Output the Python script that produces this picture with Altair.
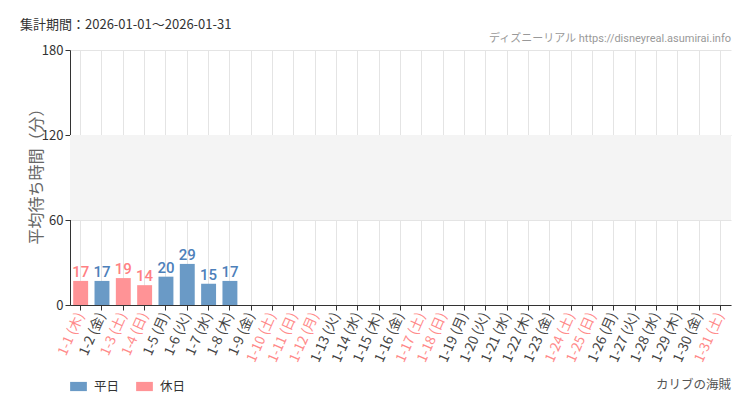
import altair as alt
import pandas as pd

days = [f"1-{d}" for d in range(1, 32)]
weekdays = ["木", "金", "土", "日", "月", "火", "水"] * 5
weekdays = weekdays[:31]
holiday_days = ["1-1", "1-3", "1-4", "1-10", "1-11", "1-12", "1-17", "1-18", "1-24", "1-25", "1-31"]
values = [17, 17, 19, 14, 20, 29, 15, 17] + [None] * 23

labels = [f"{d} ({w})" for d, w in zip(days, weekdays)]
kinds = ["休日" if d in holiday_days else "平日" for d in days]
holiday_labels = [l for l, k in zip(labels, kinds) if k == "休日"]

df = pd.DataFrame({"label": labels, "value": values, "kind": kinds})
bars_df = df.dropna()

W, H = 661, 255
FONT = "Noto Sans CJK JP"
NARROW = "Roboto, Noto Sans CJK JP"

xscale = alt.Scale(domain=labels, paddingInner=0.3, paddingOuter=0.15)
yscale = alt.Scale(domain=[0, 180])
color_scale = alt.Scale(domain=["平日", "休日"], range=["#6a9ac6", "#ff9396"])

hol_test = "indexof(" + str(holiday_labels) + ", datum.value) >= 0"

band = alt.Chart(pd.DataFrame({"y": [60], "y2": [120]})).mark_rect(color="#f4f4f4").encode(
    x=alt.value(0), x2=alt.value(W), y=alt.Y("y:Q", scale=yscale), y2="y2:Q"
)

base_axis = alt.Chart(df).mark_bar(opacity=0).encode(
    x=alt.X("label:N", scale=xscale, sort=labels, title=None,
            axis=alt.Axis(labelAngle=-66, bandPosition=0.5, grid=True, gridColor="#e4e4e4",
                          domainColor="#333", tickColor="#333", tickSize=5,
                          labelFont=FONT, labelFontSize=13.5, labelPadding=3,
                          labelColor={"condition": {"test": hol_test, "value": "#ff8a8a"}, "value": "#444"})),
    y=alt.Y("value:Q", scale=yscale, title="平均待ち時間（分）",
            axis=alt.Axis(values=[0, 60, 120, 180], grid=True, gridColor="#e4e4e4",
                          domainColor="#333", tickColor="#333", tickSize=5,
                          labelFont=FONT, labelFontSize=13, labelColor="#333",
                          titleFont=FONT, titleFontSize=16, titleColor="#666",
                          titleFontWeight="normal", titlePadding=-3, titleY=122)),
)

bars = alt.Chart(bars_df).mark_bar().encode(
    x=alt.X("label:N", scale=xscale, sort=labels),
    y=alt.Y("value:Q", scale=yscale),
    color=alt.Color("kind:N", scale=color_scale, title=None,
                    legend=alt.Legend(orient="none", legendX=0, legendY=328, direction="horizontal",
                                      symbolType="M-1,-0.55H1V0.55H-1Z", symbolSize=280,
                                      symbolStrokeWidth=0, labelFont=FONT, labelFontSize=12.5,
                                      labelColor="#333", columnPadding=16, labelOffset=7,
                                      symbolOpacity=1)),
)

texts = alt.Chart(bars_df).mark_text(dy=-9, font=NARROW, fontSize=15, fontWeight=500).encode(
    x=alt.X("label:N", scale=xscale, sort=labels),
    y=alt.Y("value:Q", scale=yscale),
    text="value:Q",
    color=alt.Color("kind:N", scale=alt.Scale(domain=["平日", "休日"], range=["#4d80ba", "#ff8083"]), legend=None),
)

one = pd.DataFrame({"a": [1]})
t1 = alt.Chart(one).mark_text(text="集計期間：2026-01-01～2026-01-31", align="left", baseline="middle",
                              font=FONT, fontSize=13, color="#333").encode(x=alt.value(-50), y=alt.value(-25))
t2 = alt.Chart(one).mark_text(text="ディズニーリアル https://disneyreal.asumirai.info", align="right", baseline="middle",
                              font=NARROW, fontSize=11, color="#999").encode(x=alt.value(W), y=alt.value(-11))
t3 = alt.Chart(one).mark_text(text="カリブの海賊", align="right", baseline="middle",
                              font=FONT, fontSize=12.5, color="#555").encode(x=alt.value(W), y=alt.value(335))

chart = alt.layer(band, base_axis, bars, texts, t1, t2, t3).resolve_scale(color="independent").properties(
    width=W, height=H, autosize=alt.AutoSizeParams(type="none"),
    padding={"left": 62, "top": 42, "right": 11, "bottom": 95},
    background="white",
).configure_view(stroke=None)

chart.save("out.html", embed_options={"renderer": "svg", "actions": False})
